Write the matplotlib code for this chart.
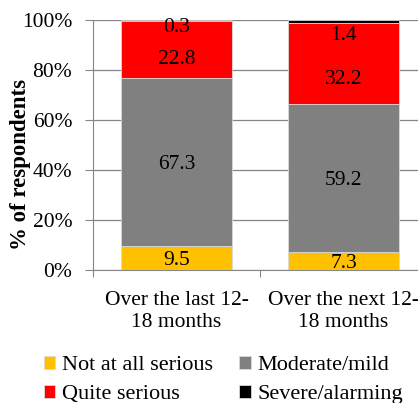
import matplotlib.pyplot as plt
import numpy as np

plt.rcParams['font.family'] = ['Liberation Serif', 'DejaVu Serif']

periods = ['Over the last 12-\n18 months', 'Over the next 12-\n18 months']
not_serious = [9.5, 7.3]
moderate = [67.3, 59.2]
quite_serious = [22.8, 32.2]
severe = [0.3, 1.4]
y_ticks = [0, 20, 40, 60, 80, 100]

series = [
    ('Not at all serious', not_serious, '#FFC000'),
    ('Moderate/mild', moderate, '#808080'),
    ('Quite serious', quite_serious, '#FF0000'),
    ('Severe/alarming', severe, '#000000'),
]

# labels near the top get nudged down (pixels) so they don't collide
nudge = {(2, 0): -8, (2, 1): -13, (3, 0): -4, (3, 1): -12}

fig = plt.figure(figsize=(4.18, 4.03), dpi=100)
ax = fig.add_axes([93 / 418, 1 - 270 / 403, 334 / 418, 250 / 403])

x = np.arange(len(periods))
bottom = np.zeros(len(periods))
handles = []
for k, (name, vals, color) in enumerate(series):
    vals = np.array(vals)
    b = ax.bar(x, vals, 0.665, bottom=bottom, color=color,
               edgecolor='#d9d9d9', linewidth=0.6, label=name, zorder=3)
    handles.append(b)
    for i, v in enumerate(vals):
        yc = bottom[i] + v / 2
        dy = nudge.get((k, i), 0) * 0.72
        ax.annotate(f'{v:.1f}', (x[i], yc), xytext=(0, dy),
                    textcoords='offset points', ha='center',
                    va='center_baseline', fontsize=15.5, color='black',
                    zorder=4)
    bottom += vals

ax.set_xlim(-0.5, 1.5)
ax.set_ylim(0, 100)
ax.set_yticks(y_ticks)
ax.set_yticklabels([f'{t}%' for t in y_ticks], fontsize=15.5)
ax.set_xticks([-0.5, 0.5, 1.5], minor=False)
ax.set_xticklabels([])
ax.set_xticks(x, minor=True)
ax.set_xticklabels(periods, minor=True, fontsize=15.5, linespacing=1.2)
ax.tick_params(axis='x', which='minor', length=0, pad=15)
ax.tick_params(axis='x', which='major', length=5, color='#868686')
ax.tick_params(axis='y', length=6, color='#868686', pad=9)

ax.grid(axis='y', color='#868686', linewidth=0.9, zorder=0)
for s in ['top', 'right']:
    ax.spines[s].set_visible(False)
for s in ['left', 'bottom']:
    ax.spines[s].set_color('#868686')

fig.text(21 / 418, 1 - 164 / 403, '% of respondents', rotation=90,
         ha='center', va='center', fontsize=16.5, fontweight='bold')

# legend fills column-wise, so order entries to read row by row
order = [0, 2, 1, 3]
fig.legend(handles=[handles[i] for i in order],
           labels=[series[i][0] for i in order], ncol=2,
           loc='upper left', bbox_to_anchor=(44 / 418, 1 - 356 / 403),
           frameon=False, fontsize=16, handlelength=0.5, handleheight=0.5,
           handletextpad=0.3, columnspacing=1.2, labelspacing=0.45,
           borderaxespad=0, borderpad=0)

fig.savefig('out.png', dpi=100)
